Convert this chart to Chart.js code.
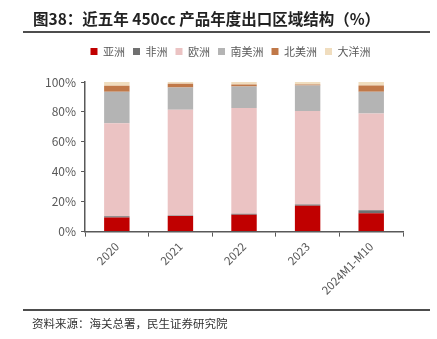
<!DOCTYPE html>
<html>
<head>
<meta charset="utf-8">
<script src="https://cdn.jsdelivr.net/npm/chart.js@4/dist/chart.umd.min.js"></script>
<style>
  body { margin: 0; background: #fff; width: 437px; height: 339px; position: relative; overflow: hidden;
         font-family: "Noto Sans CJK SC", "Noto Sans", sans-serif; }
  #regionChart { position: absolute; left: 0; top: 0; }
  #title { position: absolute; left: 33px; top: 8px; font-size: 15.5px; line-height: 21px; font-weight: bold;
           color: #222; white-space: nowrap; }
  #footer { position: absolute; left: 32px; top: 314px; font-size: 11.5px; line-height: 18px; color: #333; white-space: nowrap; }
</style>
</head>
<body>
<canvas id="regionChart" width="437" height="339"></canvas>
<div id="title">图38：近五年 450cc 产品年度出口区域结构（%）</div>
<div id="footer">资料来源：海关总署，民生证券研究院</div>
<script>
const years = ["2020", "2021", "2022", "2023", "2024M1-M10"];
const asia = [9.5, 10.5, 11.2, 17.3, 12.3];
const africa = [0.8, 0.3, 0.7, 0.8, 2.0];
const europe = [62.1, 70.6, 70.8, 62.6, 64.6];
const southAmerica = [21.1, 15.0, 14.3, 17.0, 14.6];
const northAmerica = [4.0, 2.5, 1.4, 0.7, 4.2];
const oceania = [2.5, 1.1, 1.6, 1.6, 2.3];
const yTicks = [0, 20, 40, 60, 80, 100];

// extra room under the legend, and nudge it right a bit
const legendGap = {
  id: "legendGap",
  beforeLayout(chart) {
    const lg = chart.legend;
    if (lg && !lg._patched) {
      const fit = lg.fit;
      const draw = lg.draw;
      lg.fit = function () {
        fit.call(this);
        this.height += 15;
      };
      lg.draw = function () {
        chart.ctx.save();
        chart.ctx.translate(9, 0);
        draw.call(this);
        chart.ctx.restore();
      };
      lg._patched = true;
    }
  },
};

// rules under the title and above the source line
const pageRules = {
  id: "pageRules",
  afterDraw(chart) {
    const c = chart.ctx;
    c.save();
    c.fillStyle = "#4d4d4d";
    c.fillRect(23, 31, 407, 2);
    c.fillRect(23, 309, 407, 2);
    c.restore();
  },
};

const ctx = document.getElementById("regionChart").getContext("2d");

new Chart(ctx, {
  type: "bar",
  data: {
    labels: years,
    datasets: [
      { label: "亚洲", data: asia, backgroundColor: "#C00000" },
      { label: "非洲", data: africa, backgroundColor: "#707070" },
      { label: "欧洲", data: europe, backgroundColor: "#EBC3C3" },
      { label: "南美洲", data: southAmerica, backgroundColor: "#B4B4B4" },
      { label: "北美洲", data: northAmerica, backgroundColor: "#C07848" },
      { label: "大洋洲", data: oceania, backgroundColor: "#F0DDBE" },
    ],
  },
  plugins: [legendGap, pageRules],
  options: {
    responsive: false,
    animation: false,
    layout: { padding: { left: 40, right: 34, top: 38, bottom: 39 } },
    datasets: { bar: { categoryPercentage: 0.4, barPercentage: 1 } },
    plugins: {
      legend: {
        position: "top",
        labels: {
          boxWidth: 7,
          boxHeight: 7,
          padding: 8,
          color: "#595959",
          font: { size: 11, family: "Noto Sans CJK SC" },
        },
      },
      tooltip: { enabled: false },
    },
    scales: {
      x: {
        stacked: true,
        grid: { display: true, drawOnChartArea: false, offset: true, tickLength: 5, color: "#595959" },
        border: { color: "#595959", width: 1.5 },
        ticks: { color: "#595959", maxRotation: 45, minRotation: 45, font: { size: 11.5, family: "Noto Sans CJK SC" } },
      },
      y: {
        stacked: true,
        min: 0,
        max: 100,
        afterBuildTicks: (axis) => { axis.ticks = yTicks.map((v) => ({ value: v })); },
        grid: { display: true, drawOnChartArea: false, tickLength: 4, color: "#595959" },
        border: { color: "#595959", width: 1.5 },
        ticks: { color: "#595959", padding: 5, font: { size: 12, family: "Noto Sans CJK SC" }, callback: (v) => v + "%" },
      },
    },
  },
});
</script>
</body>
</html>
